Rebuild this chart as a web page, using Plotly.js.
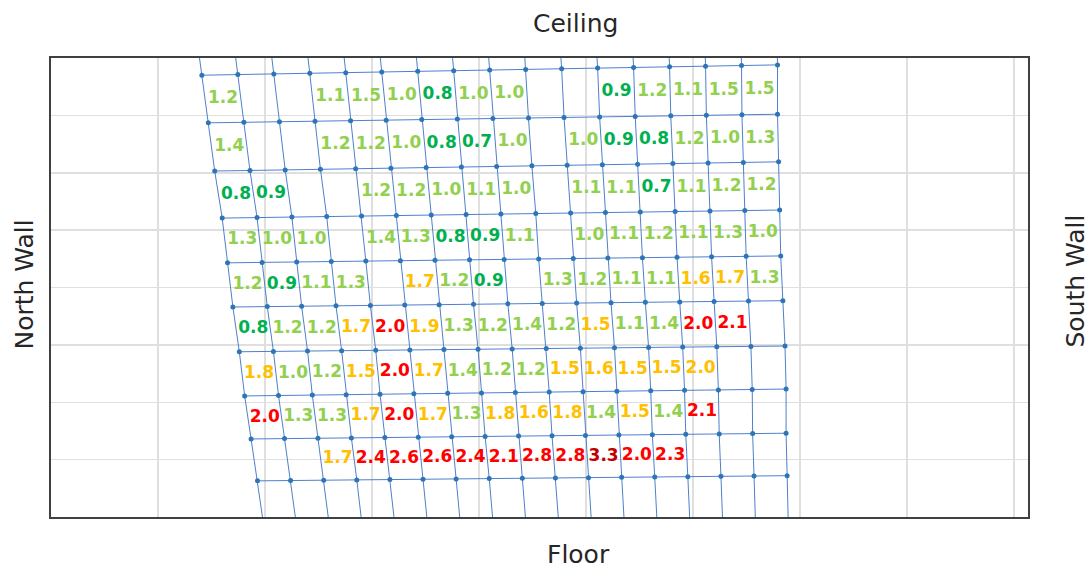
<!DOCTYPE html>
<html>
<head>
<meta charset="utf-8">
<script src="https://cdn.plot.ly/plotly-3.0.1.min.js"></script>
<style>html,body{margin:0;padding:0;background:#fff;}#chart{width:1092px;height:570px;}</style>
</head>
<body>
<div id="chart"></div>
<script>
// ---- Sensor mesh geometry (room coordinates, grid units) ----
const rowLeftX  = [1.41, 1.47, 1.53, 1.60, 1.65, 1.70, 1.76, 1.81, 1.87, 1.93];
const rowLeftY  = [7.70, 6.87, 6.03, 5.21, 4.43, 3.66, 2.88, 2.11, 1.36, 0.63];
const rowRightX = [6.79, 6.79, 6.80, 6.81, 6.82, 6.84, 6.86, 6.87, 6.87, 6.88];
const rowRightY = [7.88, 7.02, 6.19, 5.35, 4.55, 3.77, 2.98, 2.23, 1.46, 0.72];
const nCols = 17;

// ---- Measured values per cell (top row first), null = no reading ----
// (estimated unrounded readings; shown with one decimal)
const row1 = [1.2, null, null, 1.1, 1.46, 1.0, 0.8, 1.0, 1.0, null, null, 0.9, 1.2, 1.1, 1.46, 1.46];
const row2 = [1.4, null, null, 1.2, 1.2, 1.0, 0.8, 0.7, 1.0, null, 1.0, 0.9, 0.8, 1.2, 1.0, 1.3];
const row3 = [0.8, 0.9, null, null, 1.2, 1.2, 1.0, 1.1, 1.0, null, 1.1, 1.1, 0.7, 1.1, 1.2, 1.2];
const row4 = [1.3, 1.0, 1.0, null, 1.4, 1.3, 0.8, 0.9, 1.1, null, 1.0, 1.1, 1.2, 1.1, 1.3, 1.0];
const row5 = [1.2, 0.9, 1.1, 1.3, null, 1.7, 1.2, 0.9, null, 1.3, 1.2, 1.1, 1.1, 1.6, 1.7, 1.3];
const row6 = [0.8, 1.2, 1.2, 1.7, 2.0, 1.9, 1.3, 1.2, 1.4, 1.2, 1.5, 1.1, 1.4, 2.0, 2.1, null];
const row7 = [1.8, 1.0, 1.2, 1.5, 2.0, 1.7, 1.4, 1.2, 1.2, 1.5, 1.6, 1.5, 1.5, 1.96, null, null];
const row8 = [2.0, 1.3, 1.3, 1.7, 2.0, 1.7, 1.3, 1.8, 1.6, 1.8, 1.4, 1.5, 1.4, 2.1, null, null];
const row9 = [null, null, 1.7, 2.4, 2.6, 2.6, 2.4, 2.1, 2.8, 2.8, 3.3, 2.0, 2.3, null, null, null];
const valueRows = [row1, row2, row3, row4, row5, row6, row7, row8, row9];

// ---- Labels ----
const topLabel = 'Ceiling';
const bottomLabel = 'Floor';
const leftLabel = 'North Wall';
const rightLabel = 'South Wall';

function colorFor(v) {
  if (v >= 3.0) return '#C00000';
  if (v >= 2.0) return '#FF0000';
  if (v >= 1.5) return '#FFC000';
  if (v >= 1.0) return '#92D050';
  return '#00B050';
}

function node(i, j) {
  const t = j / (nCols - 1);
  return [rowLeftX[i] + (rowRightX[i] - rowLeftX[i]) * t,
          rowLeftY[i] + (rowRightY[i] - rowLeftY[i]) * t];
}
const nRows = rowLeftX.length;
const Y_MIN = 0, Y_MAX = 8;

const rx = [], ry = [];
for (let i = 0; i < nRows; i++) {
  rx.push(rowLeftX[i], rowRightX[i], null);
  ry.push(rowLeftY[i], rowRightY[i], null);
}
const cx = [], cy = [];
for (let j = 0; j < nCols; j++) {
  const a = node(0, j), b = node(nRows - 1, j);
  const slope = (b[0] - a[0]) / (b[1] - a[1]);
  cx.push(a[0] + (Y_MAX - a[1]) * slope);
  cy.push(Y_MAX);
  for (let i = 0; i < nRows; i++) { const p = node(i, j); cx.push(p[0]); cy.push(p[1]); }
  cx.push(b[0] + (Y_MIN - b[1]) * slope);
  cy.push(Y_MIN);
  cx.push(null); cy.push(null);
}
const mx = [], my = [];
for (let i = 0; i < nRows; i++) for (let j = 0; j < nCols; j++) { const p = node(i, j); mx.push(p[0]); my.push(p[1]); }
const tx = [], ty = [], tt = [], tc = [];
valueRows.forEach((row, i) => {
  row.forEach((v, j) => {
    if (v === null) return;
    const p1 = node(i, j), p2 = node(i, j + 1), p3 = node(i + 1, j), p4 = node(i + 1, j + 1);
    tx.push((p1[0] + p2[0] + p3[0] + p4[0]) / 4);
    ty.push((p1[1] + p2[1] + p3[1] + p4[1]) / 4);
    tt.push(v.toFixed(1));
    tc.push(colorFor(v));
  });
});

const traces = [
  {x: cx, y: cy, mode: 'lines', line: {color: '#4F7FCC', width: 1}, hoverinfo: 'skip', showlegend: false},
  {x: rx, y: ry, mode: 'lines', line: {color: '#4F7FCC', width: 1}, hoverinfo: 'skip', showlegend: false},
  {x: mx, y: my, mode: 'markers', marker: {color: '#2E75B6', size: 5}, hoverinfo: 'skip', showlegend: false},
  {x: tx, y: ty, mode: 'text', text: tt, textposition: 'middle center',
   textfont: {family: 'DejaVu Sans', size: 17, weight: 'bold', color: tc}, hoverinfo: 'skip', showlegend: false}
];

const titleFont = {family: 'DejaVu Sans, sans-serif', size: 25, color: '#262626'};
const layout = {
  width: 1092, height: 570,
  margin: {l: 51, r: 64, t: 58, b: 53},
  paper_bgcolor: '#ffffff', plot_bgcolor: '#ffffff',
  showlegend: false,
  xaxis: {range: [0, 9.131], dtick: 1, tick0: 0, showgrid: true, gridcolor: '#DFDFDF', gridwidth: 1.5,
          showticklabels: false, ticks: '', zeroline: false, showline: true, mirror: true,
          linecolor: '#404040', linewidth: 2, fixedrange: true},
  yaxis: {range: [Y_MIN, Y_MAX], dtick: 1, tick0: 0, showgrid: true, gridcolor: '#DFDFDF', gridwidth: 1.5,
          showticklabels: false, ticks: '', zeroline: false, showline: true, mirror: true,
          linecolor: '#404040', linewidth: 2, fixedrange: true},
  annotations: [
    {text: topLabel, xref: 'paper', yref: 'paper', x: 0.5, y: 1, xanchor: 'center', yanchor: 'middle',
     xshift: 36, yshift: 35, showarrow: false, font: titleFont},
    {text: bottomLabel, xref: 'paper', yref: 'paper', x: 0.5, y: 0, xanchor: 'center', yanchor: 'middle',
     xshift: 39, yshift: -37, showarrow: false, font: titleFont},
    {text: leftLabel, xref: 'paper', yref: 'paper', x: 0, y: 0.5, xanchor: 'center', yanchor: 'middle',
     xshift: -27, yshift: 3, textangle: -90, showarrow: false, font: titleFont},
    {text: rightLabel, xref: 'paper', yref: 'paper', x: 1, y: 0.5, xanchor: 'center', yanchor: 'middle',
     xshift: 47, yshift: 6, textangle: -90, showarrow: false, font: titleFont}
  ]
};

Plotly.newPlot('chart', traces, layout, {displayModeBar: false, staticPlot: true});
</script>
</body>
</html>
